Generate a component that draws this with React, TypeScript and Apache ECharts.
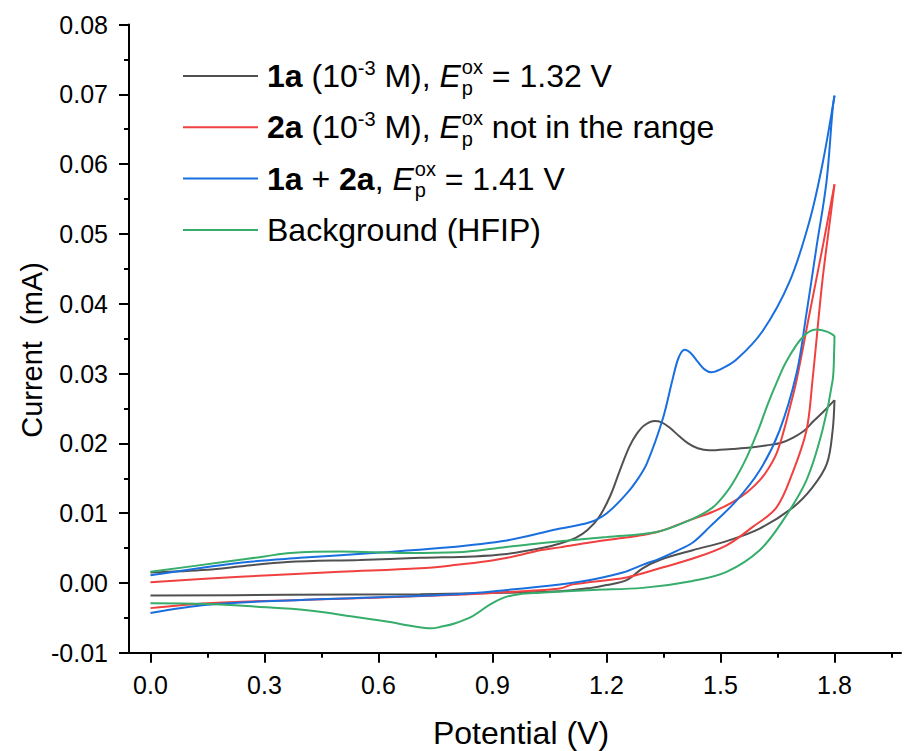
import React, { useEffect, useRef } from 'react';
import * as echarts from 'echarts';

const FONT = "'Liberation Sans', Arial, Helvetica, sans-serif";

// Axis ticks / labels
const xMajorTicks = [0, 0.3, 0.6, 0.9, 1.2, 1.5, 1.8];
const xMinorTicks = [0.15, 0.45, 0.75, 1.05, 1.35, 1.65, 1.95];
const yMin = -0.01;
const yMax = 0.08;
const yInterval = 0.01;

// 1a (black) — forward and reverse scans [V, mA]
const black1aForward = [
  [0.0, 0.0015], [0.15, 0.0019], [0.24, 0.0024], [0.36, 0.003], [0.55, 0.0033], [0.71, 0.0036],
  [0.85, 0.0038], [0.93, 0.0041], [1.03, 0.005], [1.08, 0.0057], [1.12, 0.0065], [1.15, 0.0076],
  [1.18, 0.0094], [1.21, 0.0125], [1.235, 0.0161], [1.26, 0.0195], [1.28, 0.0214], [1.3, 0.0226],
  [1.327, 0.0232], [1.345, 0.023], [1.365, 0.0223], [1.39, 0.0211], [1.415, 0.02], [1.44, 0.0193],
  [1.47, 0.019], [1.53, 0.0192], [1.58, 0.0194], [1.62, 0.0197], [1.66, 0.0201], [1.69, 0.0208],
  [1.72, 0.0218], [1.745, 0.0232], [1.77, 0.0245], [1.8, 0.0262],
];
const black1aReverse = [
  [1.8, 0.0262], [1.795, 0.0218], [1.78, 0.0171], [1.742, 0.0137], [1.69, 0.0108], [1.603, 0.0078],
  [1.516, 0.006], [1.427, 0.0047], [1.34, 0.0033], [1.295, 0.0021], [1.253, 0.0004], [1.2, -0.0003],
  [1.16, -0.0007], [1.077, -0.0012], [0.93, -0.0014], [0.71, -0.0016], [0.36, -0.0017], [0.0, -0.0018],
];

// 2a (red)
const red2aForward = [
  [0.0, 0.0001], [0.236, 0.0009], [0.499, 0.0016], [0.709, 0.0021], [0.807, 0.0026], [0.885, 0.0031],
  [0.938, 0.0036], [0.972, 0.004], [1.025, 0.0047], [1.077, 0.0051], [1.156, 0.0058], [1.235, 0.0064],
  [1.287, 0.0068], [1.34, 0.0074], [1.419, 0.009], [1.48, 0.0102], [1.532, 0.0116], [1.57, 0.013],
  [1.603, 0.0147], [1.625, 0.0163], [1.647, 0.0185], [1.665, 0.0215], [1.682, 0.025], [1.7, 0.029],
  [1.734, 0.0385], [1.768, 0.0479], [1.8, 0.0571],
];
const red2aReverse = [
  [1.8, 0.0571], [1.792, 0.0536], [1.768, 0.0432], [1.742, 0.029], [1.726, 0.0218], [1.689, 0.0157],
  [1.647, 0.0108], [1.584, 0.008], [1.516, 0.0054], [1.427, 0.0035], [1.34, 0.0021], [1.253, 0.0008],
  [1.111, -0.0002], [1.077, -0.0008], [0.938, -0.0013], [0.807, -0.0017], [0.41, -0.0024],
  [0.15, -0.0029], [0.0, -0.0036],
];

// 1a + 2a (blue)
const blueMixForward = [
  [0.0, 0.0011], [0.236, 0.0029], [0.394, 0.0036], [0.586, 0.0043], [0.762, 0.005], [0.938, 0.0061],
  [1.069, 0.0077], [1.156, 0.0087], [1.201, 0.01], [1.253, 0.0128], [1.28, 0.0147], [1.306, 0.0171],
  [1.348, 0.0235], [1.374, 0.0292], [1.39, 0.0323], [1.406, 0.0334], [1.422, 0.0329], [1.44, 0.0317],
  [1.458, 0.0306], [1.475, 0.0302], [1.5, 0.0306], [1.542, 0.032], [1.611, 0.0361], [1.682, 0.0432],
  [1.734, 0.0518], [1.768, 0.0599], [1.8, 0.0698],
];
const blueMixReverse = [
  [1.8, 0.0698], [1.795, 0.0678], [1.779, 0.0575], [1.752, 0.0479], [1.726, 0.0385], [1.7, 0.03],
  [1.655, 0.0218], [1.603, 0.0161], [1.542, 0.0118], [1.471, 0.008], [1.427, 0.0058], [1.385, 0.0046],
  [1.34, 0.0035], [1.295, 0.0026], [1.243, 0.0015], [1.164, 0.0005], [1.077, -0.0002], [0.938, -0.001],
  [0.807, -0.0016], [0.41, -0.0024], [0.15, -0.0031], [0.0, -0.0043],
];

// Background HFIP (green)
const greenBgForward = [
  [0.0, 0.0016], [0.192, 0.003], [0.3, 0.0038], [0.368, 0.0043], [0.499, 0.0045], [0.675, 0.0043],
  [0.807, 0.0044], [0.927, 0.0051], [1.025, 0.0057], [1.201, 0.0066], [1.332, 0.0073], [1.419, 0.009],
  [1.479, 0.0108], [1.516, 0.013], [1.54, 0.015], [1.569, 0.018], [1.6, 0.022], [1.625, 0.0257],
  [1.65, 0.029], [1.674, 0.0318], [1.716, 0.0352], [1.752, 0.0363], [1.78, 0.036], [1.8, 0.0354],
];
const greenBgReverse = [
  [1.8, 0.0354], [1.799, 0.033], [1.795, 0.029], [1.768, 0.0218], [1.726, 0.0147], [1.665, 0.009],
  [1.603, 0.0047], [1.516, 0.0016], [1.427, 0.0003], [1.295, -0.0007], [1.164, -0.001], [1.025, -0.0014],
  [0.97, -0.0016], [0.93, -0.0021], [0.893, -0.0031], [0.849, -0.0047], [0.8, -0.0058], [0.762, -0.0063],
  [0.74, -0.0065], [0.717, -0.0064], [0.68, -0.0061], [0.631, -0.0056], [0.544, -0.0049],
  [0.412, -0.0039], [0.281, -0.0034], [0.15, -0.003], [0.0, -0.0029],
];

const colors = ['#515151', '#F14040', '#1A6FDF', '#37AD6B'];

// 'ss' = stacked superscript/subscript pair written as "sup\nsub"
type Seg = { t: string; s: 'n' | 'b' | 'i' | 'sup' | 'ss' };
const legendEntries: Seg[][] = [
  [
    { t: '1a', s: 'b' }, { t: ' (10', s: 'n' }, { t: '-3', s: 'sup' }, { t: ' M), ', s: 'n' },
    { t: 'E', s: 'i' }, { t: 'ox\np', s: 'ss' }, { t: ' = 1.32 V', s: 'n' },
  ],
  [
    { t: '2a', s: 'b' }, { t: ' (10', s: 'n' }, { t: '-3', s: 'sup' }, { t: ' M), ', s: 'n' },
    { t: 'E', s: 'i' }, { t: 'ox\np', s: 'ss' }, { t: ' not in the range', s: 'n' },
  ],
  [
    { t: '1a', s: 'b' }, { t: ' + ', s: 'n' }, { t: '2a', s: 'b' }, { t: ', ', s: 'n' },
    { t: 'E', s: 'i' }, { t: 'ox\np', s: 'ss' }, { t: ' = 1.41 V', s: 'n' },
  ],
  [{ t: 'Background (HFIP)', s: 'n' }],
];

const MAIN = 32;
const SMALL = 20;

function fontOf(s: Seg['s']) {
  if (s === 'b') return `normal bold ${MAIN}px ${FONT}`;
  if (s === 'i') return `italic normal ${MAIN}px ${FONT}`;
  if (s === 'sup' || s === 'ss') return `normal normal ${SMALL}px ${FONT}`;
  return `normal normal ${MAIN}px ${FONT}`;
}

function buildLegend() {
  const ctx = document.createElement('canvas').getContext('2d')!;
  const measure = (t: string, f: string) => {
    ctx.font = f;
    return Math.max(...t.split('\n').map((line) => ctx.measureText(line).width));
  };
  const els: any[] = [];
  const y0 = 76;
  const dy = 51.3;
  legendEntries.forEach((segs, i) => {
    const y = y0 + i * dy;
    els.push({
      type: 'line',
      shape: { x1: 183, y1: y, x2: 258, y2: y },
      style: { stroke: colors[i], lineWidth: 2 },
    });
    let x = 267;
    segs.forEach((seg) => {
      const f = fontOf(seg.s);
      const w = measure(seg.t, f);
      let px = x;
      let py = y;
      const extra: any = {};
      if (seg.s === 'sup') {
        py = y - 8;
      } else if (seg.s === 'ss') {
        px = x + 1;
        py = y + 1;
        extra.lineHeight = 21;
      }
      x += seg.s === 'ss' ? w + 1 : w;
      els.push({
        type: 'text',
        x: px,
        y: py,
        style: {
          text: seg.t,
          font: f,
          fill: '#000',
          align: 'left',
          verticalAlign: 'middle',
          textAlign: 'left',
          textVerticalAlign: 'middle',
          ...extra,
        },
      });
    });
  });
  return els;
}

export default function App() {
  const ref = useRef<HTMLDivElement>(null);
  useEffect(() => {
    if (!ref.current) return;
    const chart = echarts.init(ref.current, undefined, { renderer: 'svg' });
    const line = (data: number[][], color: string, z: number) => ({
      type: 'line',
      data,
      smooth: 0.35,
      symbol: 'none',
      showSymbol: false,
      z,
      lineStyle: { color, width: 2 },
      itemStyle: { color },
      emphasis: { disabled: true },
    });
    const axisLineStyle = { color: '#000', width: 2 };
    chart.setOption({
      animation: false,
      backgroundColor: '#fff',
      grid: {
        left: 129,
        top: 24.5,
        width: 772,
        height: 628.3,
        containLabel: false,
        outerBoundsMode: 'none',
      },
      xAxis: [
        {
          type: 'value',
          min: -0.0565,
          max: 1.975,
          position: 'bottom',
          axisLine: { show: true, onZero: false, lineStyle: axisLineStyle },
          axisTick: { show: true, customValues: xMajorTicks, length: 10, lineStyle: axisLineStyle },
          axisLabel: {
            customValues: xMajorTicks,
            formatter: (v: number) => v.toFixed(1),
            fontSize: 25,
            fontFamily: FONT,
            color: '#000',
            margin: 20,
          },
          splitLine: { show: false },
        },
        {
          type: 'value',
          min: -0.0565,
          max: 1.975,
          position: 'bottom',
          axisLine: { show: false, onZero: false },
          axisTick: { show: true, customValues: xMinorTicks, length: 5, lineStyle: axisLineStyle },
          axisLabel: { show: false },
          splitLine: { show: false },
        },
      ],
      yAxis: {
        type: 'value',
        min: yMin,
        max: yMax,
        interval: yInterval,
        axisLine: { show: true, onZero: false, lineStyle: axisLineStyle },
        axisTick: { show: true, length: 10, lineStyle: axisLineStyle },
        minorTick: { show: true, splitNumber: 2, length: 5, lineStyle: axisLineStyle },
        axisLabel: {
          formatter: (v: number) => v.toFixed(2),
          fontSize: 25,
          fontFamily: FONT,
          color: '#000',
          margin: 21,
        },
        splitLine: { show: false },
        minorSplitLine: { show: false },
      },
      series: [
        line(black1aForward, colors[0], 2),
        line(black1aReverse, colors[0], 2),
        line(red2aForward, colors[1], 3),
        line(red2aReverse, colors[1], 3),
        line(blueMixForward, colors[2], 4),
        line(blueMixReverse, colors[2], 4),
        line(greenBgForward, colors[3], 5),
        line(greenBgReverse, colors[3], 5),
      ],
      graphic: [
        ...buildLegend(),
        {
          type: 'text',
          x: 521,
          y: 733,
          style: {
            text: 'Potential (V)',
            font: `normal normal 32px ${FONT}`,
            fill: '#000',
            align: 'center',
            verticalAlign: 'middle',
            textAlign: 'center',
            textVerticalAlign: 'middle',
          },
        },
        {
          type: 'text',
          x: 32,
          y: 350,
          rotation: Math.PI / 2,
          style: {
            text: 'Current  (mA)',
            font: `normal normal 29px ${FONT}`,
            fill: '#000',
            align: 'center',
            verticalAlign: 'middle',
            textAlign: 'center',
            textVerticalAlign: 'middle',
          },
        },
      ],
    });
    return () => chart.dispose();
  }, []);
  return (
    <div
      ref={ref}
      style={{ position: 'fixed', left: 0, top: 0, width: 904, height: 751, background: '#fff' }}
    />
  );
}
